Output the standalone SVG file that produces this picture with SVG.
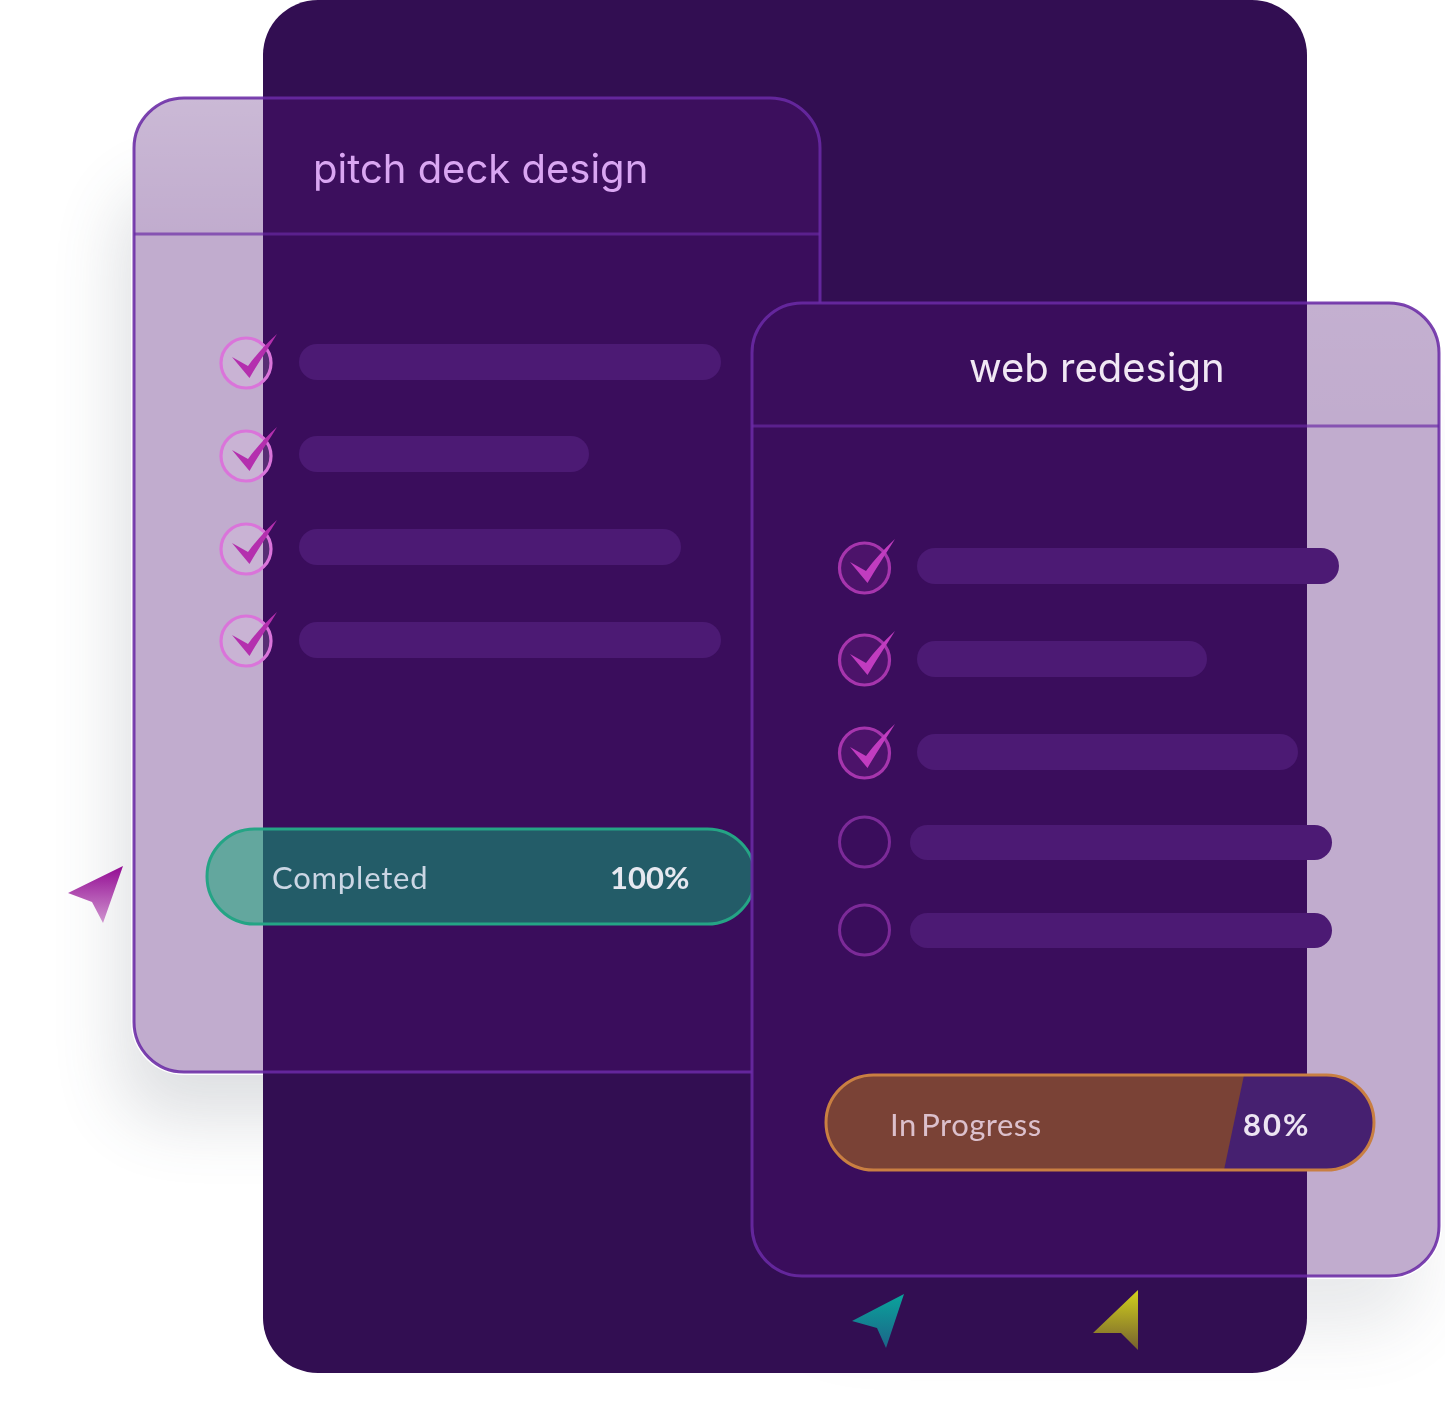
<svg xmlns="http://www.w3.org/2000/svg" width="1445" height="1411" viewBox="0 0 1445 1411">
<style>
.card{fill:#4a0b6f;fill-opacity:.34}
.edge{fill:none;stroke:#6a2aa5;stroke-width:3;stroke-opacity:.88}
.rule{stroke:#6a2aa5;stroke-width:3;stroke-opacity:.68}
.bar{fill:#4c1a74}
.tick{fill:#b42fae}
.tick2{fill:#c13cc0}
.ring{fill:#f0d8f4;fill-opacity:.16;stroke:#da74da;stroke-width:3.2}
.ring2{fill:#c13cc0;fill-opacity:.14;stroke:#a635ad;stroke-width:3.2}
.ring3{fill:none;stroke:#7c2a98;stroke-width:3}
.title{font-family:"Inter","Liberation Sans",sans-serif;font-size:40px;font-weight:400}
.pilltext{font-family:"Lato","Liberation Sans",sans-serif;font-size:31px}
.soft{filter:url(#ease)}
</style>
<defs>
<filter id="soft" x="-30%" y="-30%" width="160%" height="160%"><feGaussianBlur stdDeviation="34"/></filter>
<filter id="ease" x="-5%" y="-20%" width="110%" height="140%"><feGaussianBlur stdDeviation="0.45"/></filter>
<clipPath id="panelClip"><rect x="263" y="0" width="1044" height="1373" rx="55"/></clipPath>
<clipPath id="c1Clip"><rect x="134" y="98" width="686" height="974" rx="50"/></clipPath>
<clipPath id="c2Clip"><rect x="752" y="303" width="687" height="973" rx="50"/></clipPath>
<clipPath id="pill2Clip"><rect x="826" y="1075" width="548" height="95" rx="47.5"/></clipPath>
<linearGradient id="head" x1="0" y1="0" x2="0" y2="1"><stop offset="0" stop-color="#fff" stop-opacity=".16"/><stop offset="1" stop-color="#fff" stop-opacity="0"/></linearGradient>
<linearGradient id="g1" x1="0" y1="0" x2="0" y2="1"><stop offset="0" stop-color="#930b93"/><stop offset="1" stop-color="#cf94cf"/></linearGradient>
<linearGradient id="g2" x1="0" y1="0" x2="0" y2="1"><stop offset="0" stop-color="#0aa49c"/><stop offset="1" stop-color="#1c6488"/></linearGradient>
<linearGradient id="g3" x1="0" y1="0" x2="0" y2="1"><stop offset="0" stop-color="#d2d21c"/><stop offset="1" stop-color="#75602f"/></linearGradient>
<path id="check" d="M31,-29 C22,-14 12,0 3.500,15 L-14,-6 L2,3 C10,-8 20,-19 31,-29 Z"/>
</defs>

<g id="shadows">
<rect x="120" y="190" width="640" height="930" rx="50" fill="#4b5563" opacity=".18" filter="url(#soft)"/>
<rect x="800" y="400" width="620" height="930" rx="50" fill="#4b5563" opacity=".12" filter="url(#soft)"/>
<rect x="131" y="95" width="692" height="980" rx="53" fill="#fff"/>
<rect x="749" y="300" width="693" height="979" rx="53" fill="#fff"/>
</g>

<g id="panel"><rect x="263" y="0" width="1044" height="1373" rx="55" fill="#320e52"/></g>

<g id="card-pitch-deck">
<rect class="card" x="134" y="98" width="686" height="974" rx="50"/>
<rect x="134" y="98" width="129" height="136" fill="url(#head)" clip-path="url(#c1Clip)"/>
<rect x="263" y="98" width="557" height="136" fill="#fff" fill-opacity=".012" clip-path="url(#c1Clip)"/>
<line class="rule" x1="134" y1="234" x2="820" y2="234"/>
<rect class="edge" x="134" y="98" width="686" height="974" rx="50"/>
<text class="title soft" x="313" y="183" fill="#d9a6f2">pitch deck design</text>
<g id="task-1-1"><circle class="ring" cx="246" cy="363" r="25"/><use href="#check" class="tick" x="246" y="363"/><rect class="bar" x="299" y="344" width="422" height="36" rx="18"/></g>
<g id="task-1-2"><circle class="ring" cx="246" cy="456" r="25"/><use href="#check" class="tick" x="246" y="456"/><rect class="bar" x="299" y="436" width="290" height="36" rx="18"/></g>
<g id="task-1-3"><circle class="ring" cx="246" cy="549" r="25"/><use href="#check" class="tick" x="246" y="549"/><rect class="bar" x="299" y="529" width="382" height="36" rx="18"/></g>
<g id="task-1-4"><circle class="ring" cx="246" cy="641" r="25"/><use href="#check" class="tick" x="246" y="641"/><rect class="bar" x="299" y="622" width="422" height="36" rx="18"/></g>
<g id="status-completed">
<rect x="207" y="829" width="548" height="95" rx="47.5" fill="#10a273" fill-opacity=".53" stroke="#25a485" stroke-width="3"/>
<text class="pilltext soft" x="272" y="889" fill="#cbd6e4" letter-spacing=".8">Completed</text>
<text class="pilltext soft" x="610" y="889" fill="#e6e8f0" font-weight="700">100%</text>
</g>
</g>

<g id="card-web-redesign">
<rect x="752" y="303" width="687" height="973" rx="50" fill="#320e52" clip-path="url(#panelClip)"/>
<rect class="card" x="752" y="303" width="687" height="973" rx="50"/>
<rect x="1307" y="303" width="132" height="123" fill="url(#head)" clip-path="url(#c2Clip)" opacity=".3"/>
<line class="rule" x1="752" y1="426" x2="1439" y2="426"/>
<rect class="edge" x="752" y="303" width="687" height="973" rx="50"/>
<text class="title soft" x="969" y="382" fill="#f1e8f4">web redesign</text>
<g id="task-2-1"><circle class="ring2" cx="864.500" cy="568" r="25"/><use href="#check" class="tick2" x="864" y="568"/><rect class="bar" x="917" y="548" width="422" height="36" rx="18"/></g>
<g id="task-2-2"><circle class="ring2" cx="864.500" cy="660" r="25"/><use href="#check" class="tick2" x="864" y="660"/><rect class="bar" x="917" y="641" width="290" height="36" rx="18"/></g>
<g id="task-2-3"><circle class="ring2" cx="864.500" cy="753" r="25"/><use href="#check" class="tick2" x="864" y="753"/><rect class="bar" x="917" y="734" width="381" height="36" rx="18"/></g>
<g id="task-2-4"><circle class="ring3" cx="864.500" cy="842" r="25"/><rect class="bar" x="910" y="825" width="422" height="35" rx="17.500"/></g>
<g id="task-2-5"><circle class="ring3" cx="864.500" cy="930" r="25"/><rect class="bar" x="910" y="913" width="422" height="35" rx="17.500"/></g>
<g id="status-progress">
<g clip-path="url(#pill2Clip)">
<rect x="826" y="1075" width="548" height="95" fill="#462070"/>
<polygon points="826,1075 1244,1075 1224,1170 826,1170" fill="#7a4236"/>
</g>
<rect x="826" y="1075" width="548" height="95" rx="47.5" fill="none" stroke="#c97f42" stroke-width="3"/>
<text class="pilltext soft" x="890" y="1136" fill="#dcc0cc" letter-spacing=".5" word-spacing="-4">In Progress</text>
<text class="pilltext soft" x="1243" y="1136" fill="#ece4f2" font-weight="700" letter-spacing="2">80%</text>
</g>
</g>

<g id="cursor-magenta"><polygon points="123,866 68,893 92,902 103,923" fill="url(#g1)"/></g>
<g id="cursor-teal"><polygon points="904,1294 852,1321 877,1328 886,1348" fill="url(#g2)"/></g>
<g id="cursor-yellow"><polygon points="1138,1290 1093,1333 1121,1333 1138,1350" fill="url(#g3)"/></g>
</svg>
